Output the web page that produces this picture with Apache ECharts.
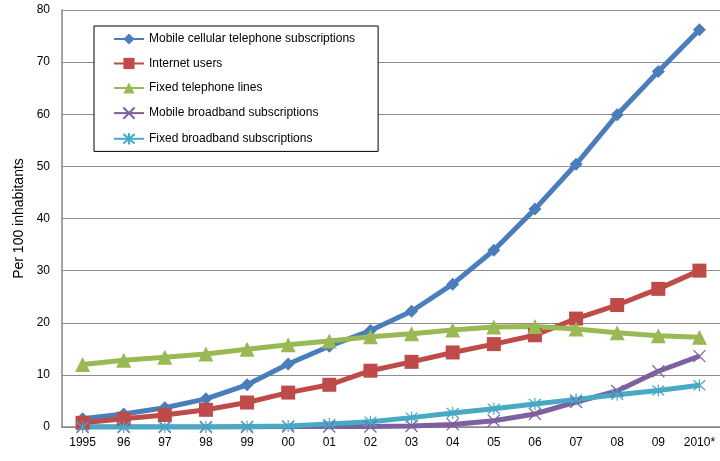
<html>

<head>
    <meta charset='utf-8' />
    <title>ICT subscriptions per 100 inhabitants</title>
    <style>
        body {
            margin: 0;
            padding: 0;
            background: #fff;
        }

        #chart {
            width: 720px;
            height: 461px;
        }
    </style>
</head>

<body>
    <div id='chart'></div>
    <script type="text/javascript" src="https://cdn.jsdelivr.net/npm/echarts@6/dist/echarts.min.js"></script>
    <script type="text/javascript">

        var years = ['1995', '96', '97', '98', '99', '00', '01', '02', '03', '04', '05', '06', '07', '08', '09', '2010*'];

        var mobileCellular = [1.6, 2.5, 3.7, 5.4, 8.1, 12.1, 15.5, 18.5, 22.2, 27.4, 33.9, 41.8, 50.4, 59.9, 68.2, 76.2];
        var internetUsers = [0.8, 1.6, 2.3, 3.3, 4.7, 6.6, 8.1, 10.8, 12.5, 14.3, 15.9, 17.6, 20.8, 23.4, 26.5, 30.0];
        var fixedTelephone = [12.0, 12.8, 13.4, 14.0, 14.9, 15.8, 16.5, 17.3, 17.9, 18.6, 19.2, 19.3, 18.8, 18.1, 17.5, 17.2];
        var mobileBroadband = [0, 0, 0, 0, 0, 0.1, 0.1, 0.1, 0.2, 0.5, 1.2, 2.5, 4.8, 6.9, 10.7, 13.6];
        var fixedBroadband = [0, 0, 0, 0, 0.1, 0.2, 0.6, 1.0, 1.8, 2.7, 3.5, 4.4, 5.3, 6.2, 7.0, 8.0];

        var yTicks = ['0', '10', '20', '30', '40', '50', '60', '70', '80'];

        var xSymbol = 'path://M0,0L10,10M10,0L0,10';
        var starSymbol = 'path://M0,0L10,10M10,0L0,10M5,-1L5,11';

        function makeSeries(name, data, color, symbol, size, strokeOnly) {
            var s = {
                name: name,
                type: 'line',
                data: data,
                symbol: symbol,
                symbolSize: size,
                showAllSymbol: true,
                lineStyle: { color: color, width: 5 },
                itemStyle: { color: color },
                animation: false
            };
            if (strokeOnly) {
                s.itemStyle = { color: 'rgba(0,0,0,0)', borderColor: color, borderWidth: 1.2 };
            }
            return s;
        }

        var myChart = echarts.init(document.getElementById('chart'));

        myChart.setOption({
            backgroundColor: '#fff',
            textStyle: { fontFamily: 'Liberation Sans' },
            grid: {
                left: 62,
                top: 10,
                width: 663,
                height: 417
            },
            legend: {
                orient: 'vertical',
                left: 94,
                top: 26,
                padding: [7, 23, 6, 19],
                itemWidth: 30,
                itemHeight: 14,
                itemGap: 12.5,
                backgroundColor: '#fff',
                borderColor: '#000',
                borderWidth: 1,
                textStyle: { fontSize: 12, color: '#000', fontFamily: 'Liberation Sans' }
            },
            xAxis: {
                type: 'category',
                data: years,
                boundaryGap: true,
                axisLine: { lineStyle: { color: '#868686', width: 1.5 } },
                axisTick: { show: false },
                axisLabel: { color: '#000', fontSize: 12, margin: 10, interval: 0 }
            },
            yAxis: {
                type: 'value',
                min: 0,
                max: 80,
                interval: 10,
                name: 'Per 100 inhabitants',
                nameLocation: 'middle',
                nameGap: 36,
                nameTextStyle: { fontSize: 14, color: '#000' },
                axisLine: { show: true, lineStyle: { color: '#868686', width: 1.5 } },
                axisTick: { show: false },
                axisLabel: {
                    color: '#000',
                    fontSize: 12,
                    margin: 12,
                    formatter: function (v) { return yTicks[v / 10]; }
                },
                splitLine: { lineStyle: { color: '#8c8c8c', width: 1 } }
            },
            series: [
                makeSeries('Mobile cellular telephone subscriptions', mobileCellular, '#4A7EBB', 'diamond', 13),
                makeSeries('Internet users', internetUsers, '#BE4B48', 'rect', 14),
                makeSeries('Fixed telephone lines', fixedTelephone, '#98B954', 'triangle', 15),
                makeSeries('Mobile broadband subscriptions', mobileBroadband, '#7D60A0', xSymbol, 12, true),
                makeSeries('Fixed broadband subscriptions', fixedBroadband, '#46AAC5', starSymbol, 12, true)
            ]
        });

    </script>
</body>

</html>
